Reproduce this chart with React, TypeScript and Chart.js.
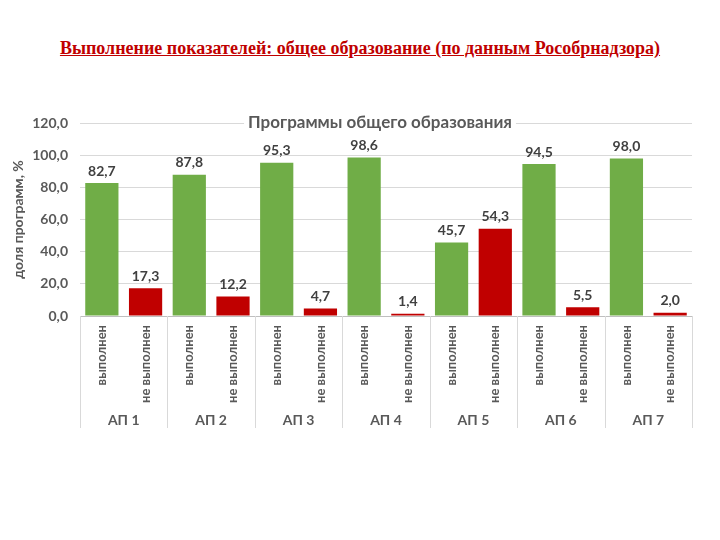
import React, { useEffect, useRef } from "react";
import { Chart, registerables } from "chart.js";

Chart.register(...registerables);

const pageTitle = "Выполнение показателей: общее образование (по данным Рособрнадзора)";
const chartTitle = "Программы общего образования";
const yAxisTitle = "доля программ, %";
const groups = ["АП 1", "АП 2", "АП 3", "АП 4", "АП 5", "АП 6", "АП 7"];
const statuses = ["выполнен", "не выполнен"];
const doneValues = [82.7, 87.8, 95.3, 98.6, 45.7, 94.5, 98.0];
const notDoneValues = [17.3, 12.2, 4.7, 1.4, 54.3, 5.5, 2.0];
const yTicks = [0, 20, 40, 60, 80, 100, 120];

const GREEN = "#70AD47";
const RED = "#C00000";
const TEXT = "#595959";
const FONT = "Lato, 'Open Sans', sans-serif";

const fmt = (v: number) => v.toFixed(1).replace(".", ",");

export default function App() {
  const ref = useRef<HTMLCanvasElement>(null);

  useEffect(() => {
    if (!ref.current) return;
    const labels: string[] = [];
    const values: number[] = [];
    const colors: string[] = [];
    groups.forEach((_, i) => {
      labels.push(statuses[0]);
      values.push(doneValues[i]);
      colors.push(GREEN);
      labels.push(statuses[1]);
      values.push(notDoneValues[i]);
      colors.push(RED);
    });

    const overlay = {
      id: "overlay",
      afterDatasetsDraw(chart: any) {
        const ctx = chart.ctx;
        const meta = chart.getDatasetMeta(0);
        ctx.save();
        ctx.fillStyle = "#404040";
        ctx.font = `bold 14px ${FONT}`;
        ctx.textAlign = "center";
        ctx.textBaseline = "bottom";
        meta.data.forEach((el: any, i: number) => {
          ctx.fillText(fmt(values[i]), el.x, el.y - 5);
        });
        ctx.restore();
      },
      afterDraw(chart: any) {
        const ctx = chart.ctx;
        const area = chart.chartArea;
        const xs = chart.scales.x;
        const x2 = chart.scales.x2;
        ctx.save();
        ctx.strokeStyle = "#d9d9d9";
        ctx.lineWidth = 1;
        const n = labels.length;
        const step = xs.getPixelForValue(1) - xs.getPixelForValue(0);
        for (let i = 0; i <= n; i += 2) {
          let px;
          if (i === 0) px = xs.getPixelForValue(0) - step / 2;
          else if (i === n) px = xs.getPixelForValue(n - 1) + step / 2;
          else px = (xs.getPixelForValue(i - 1) + xs.getPixelForValue(i)) / 2;
          px = Math.round(px) + 0.5;
          ctx.beginPath();
          ctx.moveTo(px, area.bottom);
          ctx.lineTo(px, x2.bottom);
          ctx.stroke();
        }
        ctx.font = `bold 17px ${FONT}`;
        const w = ctx.measureText(chartTitle).width;
        const cx = (area.left + area.right) / 2 - 6;
        const cy = area.top;
        ctx.fillStyle = "#ffffff";
        ctx.fillRect(cx - w / 2 - 4, cy - 9, w + 8, 18);
        ctx.fillStyle = TEXT;
        ctx.textAlign = "center";
        ctx.textBaseline = "middle";
        ctx.fillText(chartTitle, cx, cy);
        ctx.restore();
      },
    };

    const chart = new Chart(ref.current, {
      type: "bar",
      data: {
        labels,
        datasets: [
          {
            data: values,
            backgroundColor: colors,
            borderWidth: 0,
            categoryPercentage: 1,
            barPercentage: 0.76,
            xAxisID: "x",
          },
        ],
      },
      options: {
        animation: false,
        responsive: false,
        maintainAspectRatio: false,
        layout: { padding: { left: 8, right: 28, top: 123, bottom: 112 } },
        plugins: { legend: { display: false }, tooltip: { enabled: false }, title: { display: false } },
        scales: {
          y: {
            min: 0,
            max: 120,
            afterBuildTicks: (s: any) => {
              s.ticks = yTicks.map((v) => ({ value: v }));
            },
            afterFit: (s: any) => {
              s.width = 72;
            },
            grid: {
              drawTicks: false,
              color: (c: any) => (c.tick && c.tick.value === 0 ? "#bfbfbf" : "#d9d9d9"),
            },
            border: { display: false },
            ticks: {
              padding: 12,
              color: TEXT,
              font: { family: FONT, size: 14, weight: "bold" },
              callback: (v: any) => fmt(Number(v)),
            },
            title: {
              display: true,
              text: yAxisTitle,
              color: TEXT,
              font: { family: FONT, size: 14, weight: "bold" },
              padding: { top: 2, bottom: 2 },
            },
          },
          x: {
            position: "bottom",
            afterFit: (s: any) => {
              s.height = 92;
            },
            grid: { display: false, drawTicks: false },
            border: { display: false },
            ticks: {
              minRotation: 90,
              maxRotation: 90,
              autoSkip: false,
              padding: 9,
              color: TEXT,
              font: { family: FONT, size: 13, weight: "bold" },
            },
          },
          x2: {
            type: "category",
            position: "bottom",
            labels: groups,
            offset: true,
            afterFit: (s: any) => {
              s.height = 20;
            },
            grid: { display: false, drawTicks: false },
            border: { display: false },
            ticks: {
              padding: 4,
              color: TEXT,
              font: { family: FONT, size: 14, weight: "bold" },
            },
          },
        },
      } as any,
      plugins: [overlay],
    });
    return () => chart.destroy();
  }, []);

  return (
    <div style={{ position: "absolute", left: 0, top: 0, width: 720, height: 540, background: "#fff" }}>
      <div
        style={{
          position: "absolute",
          left: 0,
          top: 37,
          width: 720,
          textAlign: "center",
          fontFamily: "'Liberation Serif', 'Times New Roman', serif",
          fontWeight: "bold",
          fontSize: 18,
          lineHeight: "22px",
          color: "#C00000",
          textDecoration: "underline",
        }}
      >
        {pageTitle}
      </div>
      <canvas ref={ref} width={720} height={540} style={{ position: "absolute", left: 0, top: 0, width: 720, height: 540 }} />
    </div>
  );
}
